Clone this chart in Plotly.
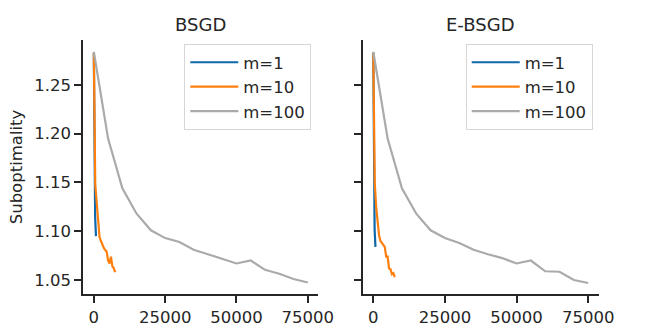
import plotly.graph_objects as go

# data
x_m1 = [0, 50, 100, 150, 200, 250, 300, 350, 400, 450, 500, 550, 600, 650, 700, 750]
x_m10 = [0, 500, 1000, 1500, 2000, 2500, 3000, 3500, 4000, 4500, 5000, 5500, 6000, 6500, 7000, 7500]
x_m100 = [0, 5000, 10000, 15000, 20000, 25000, 30000, 35000, 40000, 45000, 50000, 55000, 60000, 65000, 70000, 75000]

# BSGD
bsgd_m1 = [1.283, 1.24, 1.21, 1.19, 1.17, 1.155, 1.145, 1.135, 1.125, 1.118, 1.112, 1.107, 1.103, 1.100, 1.097, 1.095]
bsgd_m10 = [1.283, 1.148, 1.130, 1.108, 1.094, 1.090, 1.086, 1.083, 1.081, 1.079, 1.070, 1.067, 1.074, 1.064, 1.062, 1.058]
bsgd_m100 = [1.284, 1.195, 1.144, 1.118, 1.101, 1.093, 1.089, 1.081, 1.0765, 1.072, 1.067, 1.070, 1.0605, 1.0565, 1.051, 1.0475]

# E-BSGD
ebsgd_m1 = [1.283, 1.235, 1.20, 1.175, 1.155, 1.14, 1.128, 1.118, 1.110, 1.104, 1.099, 1.095, 1.091, 1.088, 1.086, 1.084]
ebsgd_m10 = [1.283, 1.150, 1.125, 1.112, 1.096, 1.090, 1.088, 1.086, 1.084, 1.074, 1.074, 1.062, 1.061, 1.056, 1.057, 1.053]
ebsgd_m100 = [1.284, 1.195, 1.144, 1.118, 1.101, 1.093, 1.088, 1.081, 1.0765, 1.0725, 1.067, 1.070, 1.059, 1.0585, 1.050, 1.047]

labels = ["m=1", "m=10", "m=100"]
colors = ["#0e68aa", "#ff7f0e", "#aaaaaa"]
x_ticks = [0, 25000, 50000, 75000]
x_ticktext = ["0", "25000", "50000", "75000"]
y_ticks = [1.05, 1.10, 1.15, 1.20, 1.25]
y_ticktext = ["1.05", "1.10", "1.15", "1.20", "1.25"]
txt = "#262626"
fnt = "DejaVu Sans"

W, H = 664, 332
XW = 648  # width the page actually lays the plot out at


def px(p):
    return p / XW


def py_(p):
    return (H - p) / H


fig = go.Figure()

panels = [
    ([bsgd_m1, bsgd_m10, bsgd_m100], "x", "y", "legend"),
    ([ebsgd_m1, ebsgd_m10, ebsgd_m100], "x2", "y2", "legend2"),
]
for ys, xa, ya, lg in panels:
    for i, (xs, yv) in enumerate(zip([x_m1, x_m10, x_m100], ys)):
        fig.add_trace(go.Scatter(
            x=xs, y=yv, mode="lines", name=labels[i],
            line=dict(color=colors[i], width=2.2),
            xaxis=xa, yaxis=ya, legend=lg,
        ))

ax_common = dict(
    showgrid=False, zeroline=False, showline=True, linecolor=txt, linewidth=1.5,
    ticks="outside", ticklen=7, tickwidth=1.5, tickcolor=txt,
    tickfont=dict(family=fnt, size=16.5, color=txt),
)
yb = [py_(294), py_(40)]
leg_common = dict(xanchor="left", yanchor="top", bgcolor="white", bordercolor="#d6d6d6",
                  borderwidth=1, itemwidth=48, font=dict(family=fnt, size=16.5, color=txt))
fig.update_layout(
    width=W, height=H, autosize=False,
    margin=dict(l=0, r=0, t=0, b=0),
    paper_bgcolor="white", plot_bgcolor="white",
    font=dict(family=fnt, color=txt),
    xaxis=dict(domain=[px(83), px(318)], range=[-3750, 78750],
               tickvals=x_ticks, ticktext=x_ticktext, anchor="y", **ax_common),
    xaxis2=dict(domain=[px(362), px(598)], range=[-3750, 78750],
                tickvals=x_ticks, ticktext=x_ticktext, anchor="y2", **ax_common),
    yaxis=dict(domain=yb, range=[1.0357, 1.296], tickvals=y_ticks, ticktext=y_ticktext, anchor="x",
               title=dict(text="Suboptimality", font=dict(family=fnt, size=16.5, color=txt), standoff=8),
               **ax_common),
    yaxis2=dict(domain=yb, range=[1.0357, 1.296], tickvals=y_ticks,
                showticklabels=False, anchor="x2", matches="y", **ax_common),
    legend=dict(x=px(184), y=py_(44), **leg_common),
    legend2=dict(x=px(465), y=py_(44), **leg_common),
    annotations=[
        dict(text="BSGD", x=px(200.5), y=py_(24), xref="paper", yref="paper",
             xanchor="center", yanchor="middle", showarrow=False,
             font=dict(family=fnt, size=18, color=txt)),
        dict(text="E-BSGD", x=px(480), y=py_(24), xref="paper", yref="paper",
             xanchor="center", yanchor="middle", showarrow=False,
             font=dict(family=fnt, size=18, color=txt)),
    ],
)

# put the plot flush with the page corner, no scrollbars, no resizing
fig.write_html(
    "out.html",
    config={"displayModeBar": False, "responsive": False},
    post_script="document.body.style.margin='0px';document.body.style.overflow='hidden';"
                "document.documentElement.style.overflow='hidden';",
)
